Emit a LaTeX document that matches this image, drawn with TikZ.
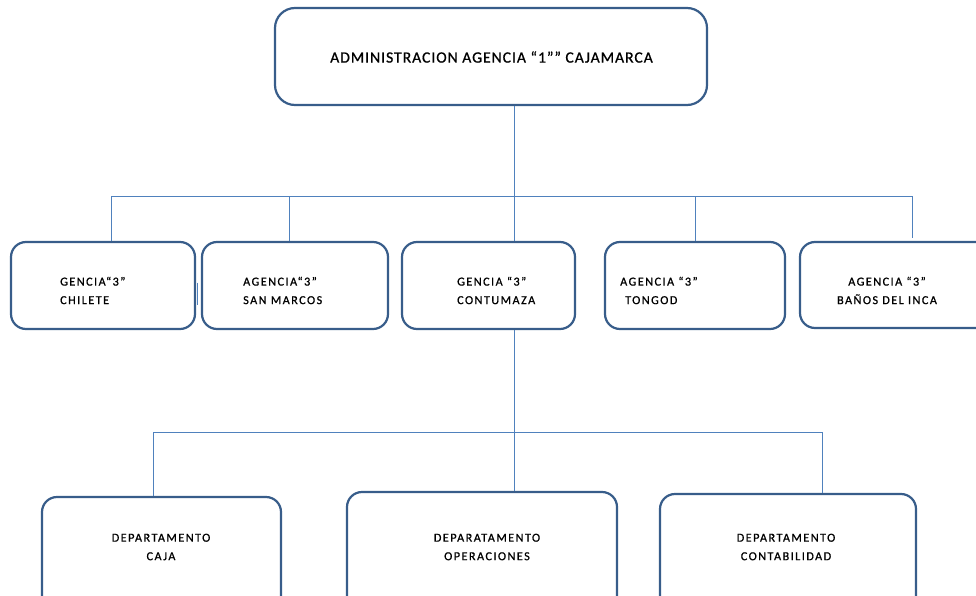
\documentclass[tikz,border=0pt]{standalone}
\usepackage{fontspec}
\setmainfont{Carlito}
\newfontfamily\rotfont[LetterSpace=12,FakeBold=0.8]{Carlito}
\newfontfamily\titfont[LetterSpace=6,FakeBold=0.8]{Carlito}
\usetikzlibrary{positioning}

\definecolor{boxblue}{HTML}{385D8A}
\definecolor{lineblue}{HTML}{4F81BD}

\tikzset{
  caja/.style={draw=boxblue, line width=2.2pt, rounded corners=15pt, fill=white, inner sep=0pt},
  rotulo/.style={font=\rotfont\fontsize{12.2}{18.5}\selectfont, inner sep=0pt},
  enlace/.style={draw=lineblue, line width=1pt}
}

\begin{document}
\begin{tikzpicture}[x=1pt,y=-1pt]
  \useasboundingbox (0,0) rectangle (976,596);
  % boxes
  \node[caja, rounded corners=20pt, minimum width=432pt, minimum height=97pt] (admin) at (491,56.5) {};
  \node[caja, minimum width=184pt, minimum height=87pt] (chilete) at (103,285.5) {};
  \node[caja, minimum width=186pt, minimum height=87pt] (sanmarcos) at (295,285.5) {};
  \node[caja, minimum width=173pt, minimum height=87pt] (contumaza) at (488.5,285.5) {};
  \node[caja, minimum width=180pt, minimum height=87pt] (tongod) at (695,285.5) {};
  \node[caja, minimum width=200pt, minimum height=86pt] (banos) at (900,285) {};
  \node[caja, minimum width=239pt, minimum height=115pt] (caja) at (161.5,554.5) {};
  \node[caja, minimum width=270pt, minimum height=120pt] (operac) at (482,552) {};
  \node[caja, minimum width=256pt, minimum height=118pt] (contab) at (788,553) {};

  % texts
  \node[inner sep=0pt, font=\titfont\fontsize{15.7}{18}\selectfont] (admin-t) at (491.5,57) {ADMINISTRACION AGENCIA “1”” CAJAMARCA};
  \node[rotulo, anchor=west, align=left] (chilete-t) at (60,290.5) {GENCIA“3”\\CHILETE};
  \node[rotulo, anchor=west, align=left] (sanmarcos-t) at (243,290.5) {AGENCIA“3”\\SAN MARCOS};
  \node[rotulo, anchor=west, align=left] (contumaza-t) at (457,290.5) {GENCIA “3”\\CONTUMAZA};
  \node[rotulo, anchor=west, align=left] (tongod-t) at (620,290.5) {AGENCIA “3”\\\hspace*{5pt}TONGOD};
  \node[rotulo, align=center] (banos-t) at (887,290.5) {AGENCIA “3”\\BAÑOS DEL INCA};
  \node[rotulo, align=center] (caja-t) at (161,547) {DEPARTAMENTO\\CAJA};
  \node[rotulo, align=center] (operac-t) at (487,547) {DEPARATAMENTO\\OPERACIONES};
  \node[rotulo, align=center] (contab-t) at (786,547) {DEPARTAMENTO\\CONTABILIDAD};

  % first level
  \coordinate (d1) at (111,196);
  \coordinate (d2) at (289,196);
  \coordinate (d3) at (514,196);
  \coordinate (d4) at (695,196);
  \coordinate (d5) at (912,196);
  \draw[enlace] (admin.south -| d3) -- (d3);
  \draw[enlace] (d1) -- (d5);
  \draw[enlace] (d1) -- (d1 |- chilete.north);
  \draw[enlace] (d2) -- (d2 |- sanmarcos.north);
  \draw[enlace] (d3) -- (d3 |- contumaza.north);
  \draw[enlace] (d4) -- (d4 |- tongod.north);
  \draw[enlace] (d5) -- ([yshift=3pt]d5 |- banos.north);
  \draw[enlace] ([xshift=1.5pt,yshift=3pt]chilete.east) -- ++(0,22);

  % second level
  \coordinate (e1) at (153,432);
  \coordinate (e2) at (514,432);
  \coordinate (e3) at (822,432);
  \draw[enlace] (contumaza.south -| e2) -- (operac.north -| e2);
  \draw[enlace] (e1) -- (e3);
  \draw[enlace] (e1) -- (e1 |- caja.north);
  \draw[enlace] (e3) -- (e3 |- contab.north);
\end{tikzpicture}
\end{document}
